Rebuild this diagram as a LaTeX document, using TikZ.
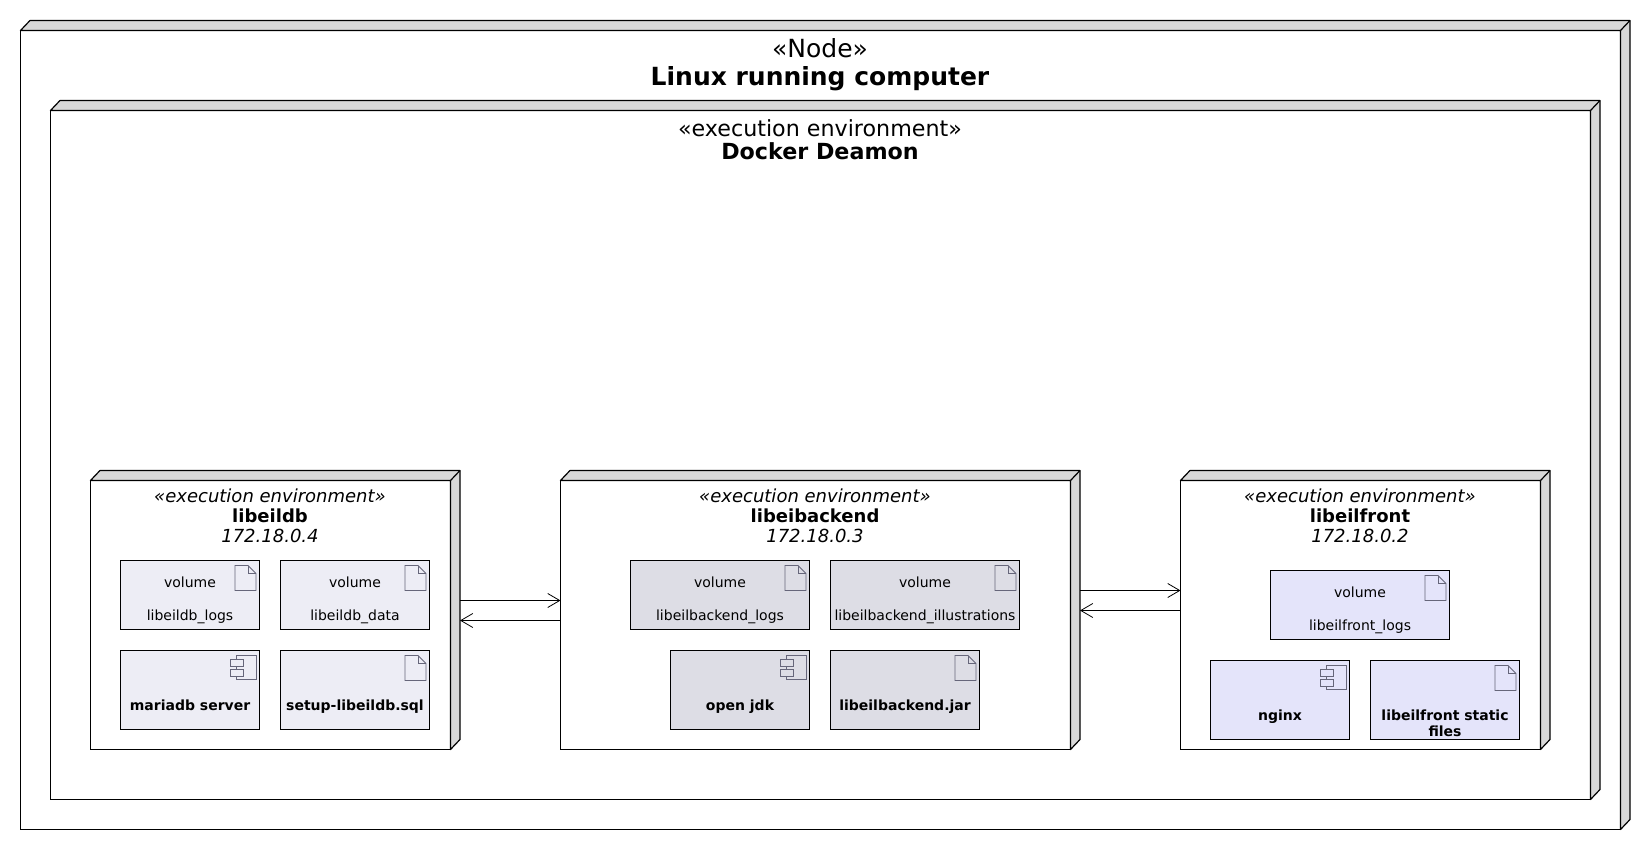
\documentclass[tikz,border=0pt]{standalone}
\usepackage{fontspec}
\setmainfont{DejaVu Sans}
\usetikzlibrary{arrows.meta,calc}
\definecolor{roofgray}{HTML}{D8D8D8}
\definecolor{dbfill}{HTML}{EDEDF5}
\definecolor{befill}{HTML}{DDDDE5}
\definecolor{frontfill}{HTML}{E4E4FA}
\definecolor{iconline}{HTML}{66667A}
\tikzset{
  boxthreed/.style={draw=black,fill=white,line width=1.2pt,rectangle,inner sep=0pt,outer sep=0pt,anchor=north west},
  rooffill/.style={draw=black,fill=roofgray,line width=1.2pt,line join=round},
  artifact/.style={draw=black,line width=1.2pt,rectangle,inner sep=0pt,outer sep=0pt,anchor=north west},
  txt/.style={inner sep=0pt,outer sep=0pt,anchor=base,align=center},
  small/.style={txt,font=\fontsize{14}{16}\selectfont},
  smallbold/.style={txt,font=\fontsize{14}{16}\selectfont\bfseries},
  icon/.style={draw=iconline,line width=0.8pt},
  dep/.style={draw=black,line width=1pt,-{Straight Barb[length=12pt,width=14pt,line width=0.8pt]}}
}
\newcommand{\threedbox}[5]{%
  \node[boxthreed,minimum width=#4pt,minimum height=#5pt] (#1) at (#2,#3) {};
  \filldraw[rooffill] (#1.north west) -- ++(9.5,-10) -- ([shift={(9.5,-10)}]#1.north east)
    -- ([shift={(9.5,-10)}]#1.south east) -- (#1.south east) -- (#1.north east) -- cycle;
  \draw[rooffill] (#1.north east) -- ++(9.5,-10);
}
\newcommand{\docicon}[1]{%
  \draw[icon] ([shift={(-24.5,5)}]#1.north east) -- ([shift={(-11.5,5)}]#1.north east) -- ([shift={(-3.5,13)}]#1.north east) -- ([shift={(-3.5,30)}]#1.north east) -- ([shift={(-24.5,30)}]#1.north east) -- cycle;
  \draw[icon] ([shift={(-11.5,5)}]#1.north east) -- ([shift={(-11.5,13)}]#1.north east) -- ([shift={(-3.5,13)}]#1.north east);
}
\newcommand{\compicon}[1]{%
  \draw[icon] ([shift={(-23,5)}]#1.north east) rectangle ([shift={(-3.5,29)}]#1.north east);
  \filldraw[icon,fill=#1color] ([shift={(-29,9)}]#1.north east) rectangle ([shift={(-16.5,15.5)}]#1.north east);
  \filldraw[icon,fill=#1color] ([shift={(-29,19)}]#1.north east) rectangle ([shift={(-16.5,25.5)}]#1.north east);
}
\newcommand{\volume}[7]{% name x y w h fill label
  \node[artifact,fill=#6,minimum width=#4pt,minimum height=#5pt] (#1) at (#2,#3) {};
  \docicon{#1}
  \node[small] (#1a) at ($(#1.north)+(0,27)$) {volume};
  \node[small] (#1b) at ($(#1.north)+(0,60)$) {#7};
}
\newcommand{\artf}[7]{% name x y w h fill label
  \node[artifact,fill=#6,minimum width=#4pt,minimum height=#5pt] (#1) at (#2,#3) {};
  \docicon{#1}
  \node[smallbold] (#1a) at ($(#1.north)+(0,60)$) {#7};
}
\newcommand{\comp}[7]{% name x y w h fill label
  \colorlet{#1color}{#6}
  \node[artifact,fill=#6,minimum width=#4pt,minimum height=#5pt] (#1) at (#2,#3) {};
  \compicon{#1}
  \node[smallbold] (#1a) at ($(#1.north)+(0,60)$) {#7};
}
\newcommand{\envtitle}[4]{% name center name ip
  \node[txt,font=\fontsize{18}{20}\selectfont\itshape] (#1s) at (#2,502) {«execution environment»};
  \node[txt,font=\fontsize{18}{20}\selectfont\bfseries] (#1n) at (#2,522) {#3};
  \node[txt,font=\fontsize{18}{20}\selectfont\itshape] (#1i) at (#2,542) {#4};
}
\begin{document}
\begin{tikzpicture}[x=1pt,y=-1pt]
\path[use as bounding box,fill=white] (0,0) rectangle (1650,850);

\threedbox{host}{20.5}{30.5}{1600}{799}
\node[txt,font=\fontsize{25}{27}\selectfont] (hosts) at (820,58) {«Node»};
\node[txt,font=\fontsize{25}{27}\selectfont\bfseries] (hostn) at (820,86) {Linux running computer};

\threedbox{docker}{50.5}{110.5}{1540}{689}
\node[txt,font=\fontsize{22.2}{24}\selectfont] (dockers) at (820,137) {«execution environment»};
\node[txt,font=\fontsize{22.2}{24}\selectfont\bfseries] (dockern) at (820,160) {Docker Deamon};

\threedbox{db}{90.5}{480.5}{360}{269}
\threedbox{backend}{560.5}{480.5}{510}{269}
\threedbox{front}{1180.5}{480.5}{360}{269}

\envtitle{dbt}{270}{libeildb}{172.18.0.4}
\envtitle{bet}{815}{libeibackend}{172.18.0.3}
\envtitle{frt}{1360}{libeilfront}{172.18.0.2}

\volume{dblogs}{120.5}{560.5}{139}{69}{dbfill}{libeildb\_logs}
\volume{dbdata}{280.5}{560.5}{149}{69}{dbfill}{libeildb\_data}
\comp{maria}{120.5}{650.5}{139}{79}{dbfill}{mariadb server}
\artf{setup}{280.5}{650.5}{149}{79}{dbfill}{setup-libeildb.sql}

\volume{belogs}{630.5}{560.5}{179}{69}{befill}{libeilbackend\_logs}
\volume{beill}{830.5}{560.5}{189}{69}{befill}{libeilbackend\_illustrations}
\comp{jdk}{670.5}{650.5}{139}{79}{befill}{open jdk}
\artf{jar}{830.5}{650.5}{149}{79}{befill}{libeilbackend.jar}

\volume{frlogs}{1270.5}{570.5}{179}{69}{frontfill}{libeilfront\_logs}
\comp{nginx}{1210.5}{660.5}{139}{79}{frontfill}{nginx}
\node[artifact,fill=frontfill,minimum width=149pt,minimum height=79pt] (static) at (1370.5,660.5) {};
\docicon{static}
\node[smallbold] (statica) at ($(static.north)+(0,60)$) {libeilfront static};
\node[smallbold] (staticb) at ($(static.north)+(0,76)$) {files};

\coordinate (dbr) at ([xshift=9.5pt]db.east);
\coordinate (ber) at ([xshift=9.5pt]backend.east);
\draw[dep] (dbr |- 0,600.5) -- (backend.west |- 0,600.5);
\draw[dep] (backend.west |- 0,620.5) -- (dbr |- 0,620.5);
\draw[dep] (ber |- 0,590.5) -- (front.west |- 0,590.5);
\draw[dep] (front.west |- 0,610.5) -- (ber |- 0,610.5);
\end{tikzpicture}
\end{document}
